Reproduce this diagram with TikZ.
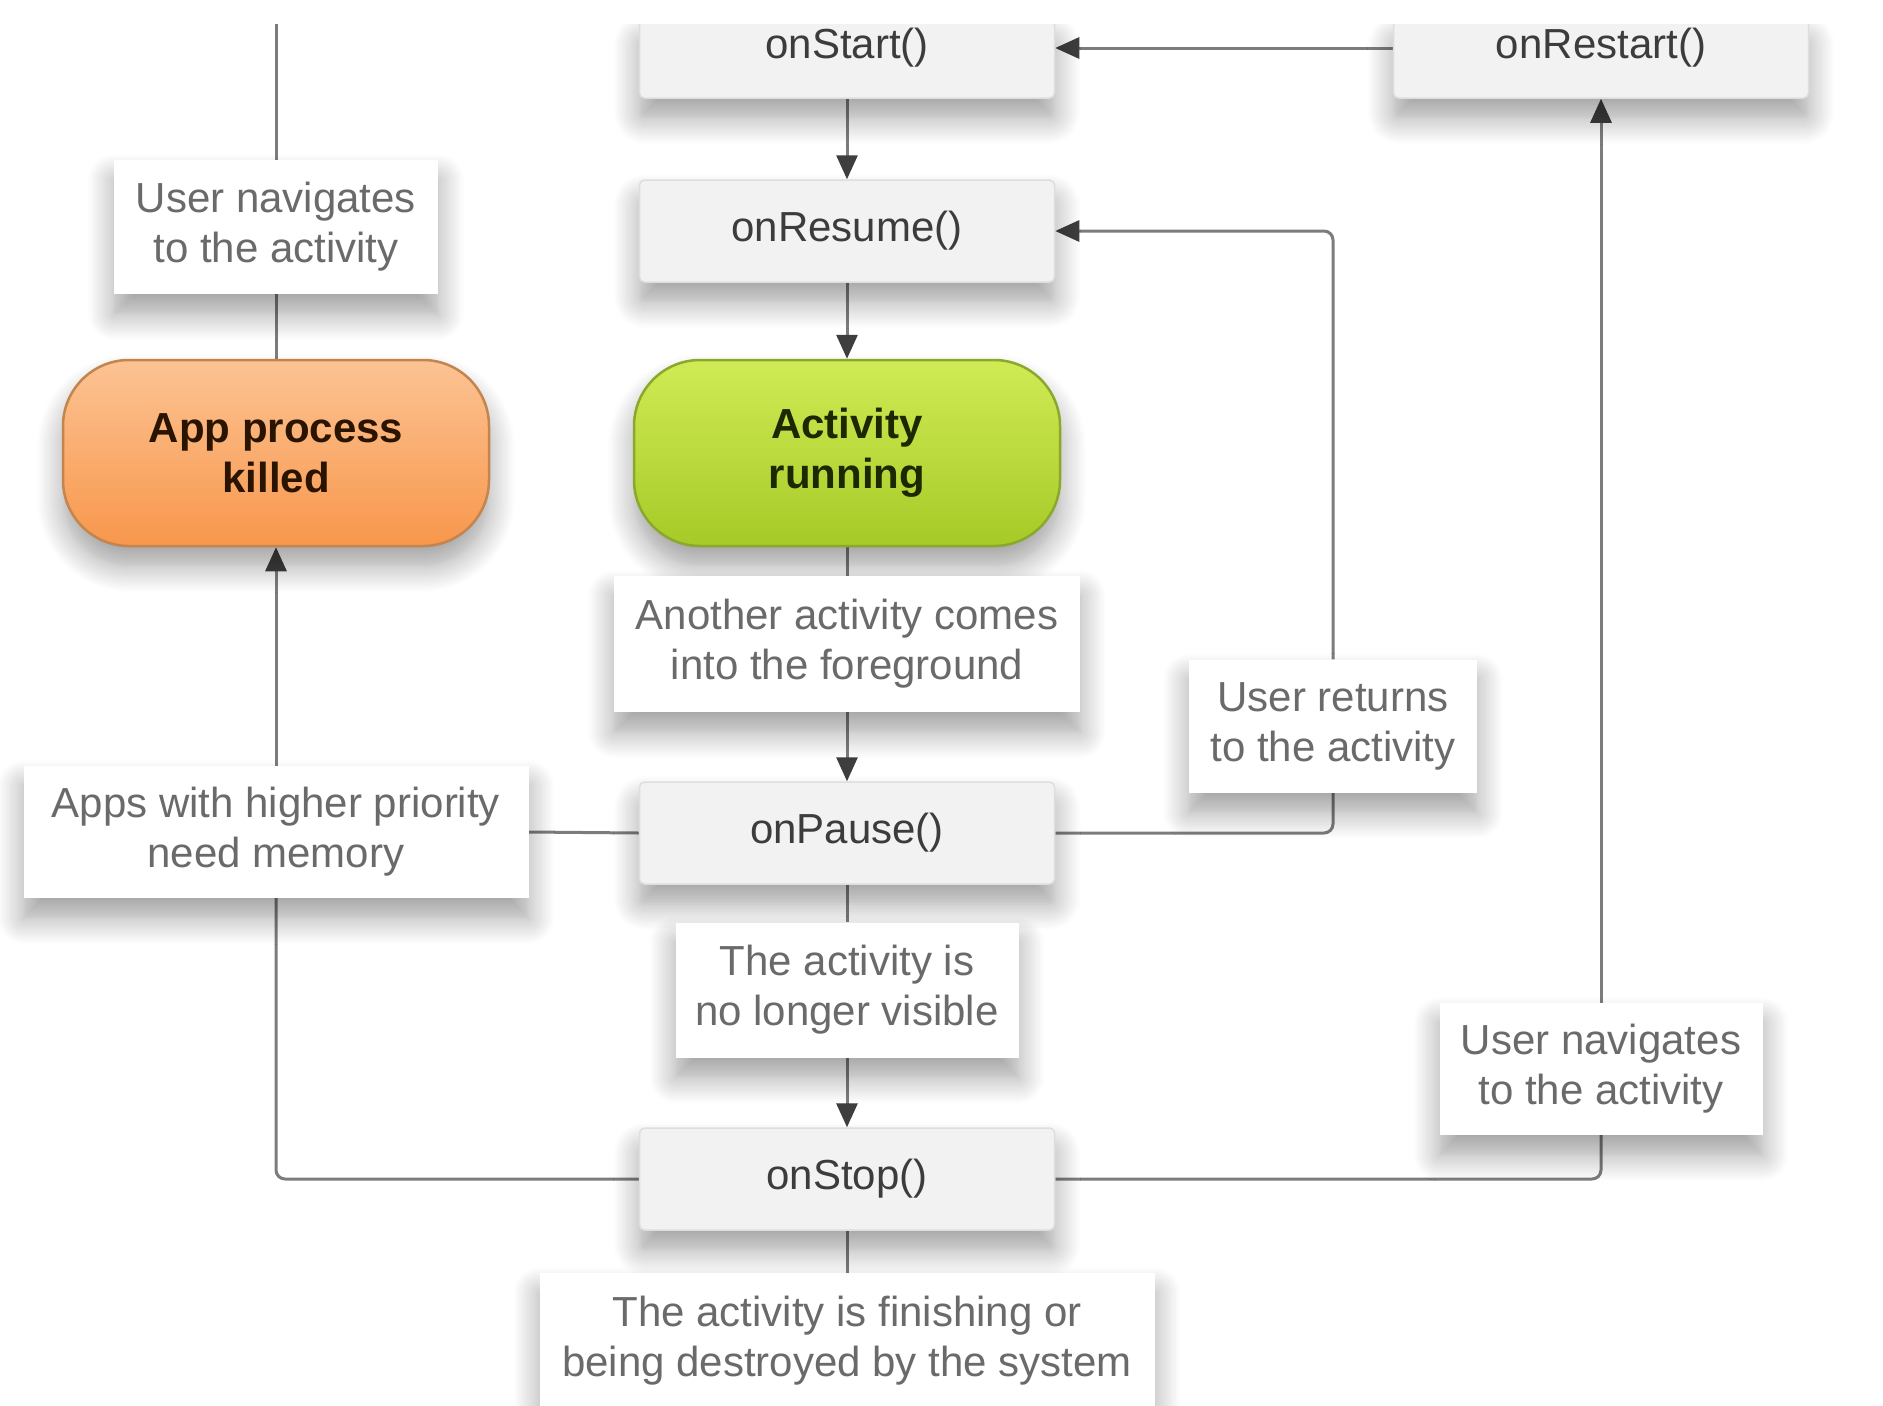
\documentclass[tikz,border=0pt]{standalone}
\usepackage{fontspec}
\setmainfont{Liberation Sans}
\usetikzlibrary{arrows.meta,shadows.blur}
\pgfdeclarelayer{bg}
\pgfsetlayers{bg,main}
\definecolor{linegray}{HTML}{7C7C7C}
\definecolor{tipgray}{HTML}{3E3E3E}
\definecolor{methodfill}{HTML}{F2F2F2}
\definecolor{methodborder}{HTML}{DEDEDE}
\definecolor{methodtext}{HTML}{3C3C3C}
\definecolor{labeltext}{HTML}{6A6A6A}
\definecolor{orangetop}{HTML}{FCC393}
\definecolor{orangebot}{HTML}{F8974C}
\definecolor{orangeline}{HTML}{C4844E}
\definecolor{orangetext}{HTML}{2A1400}
\definecolor{greentop}{HTML}{D0EB55}
\definecolor{greenbot}{HTML}{A6CA27}
\definecolor{greenline}{HTML}{8AA82C}
\definecolor{greentext}{HTML}{1D2800}
\begin{document}
\begin{tikzpicture}[x=1pt,y=-1pt,
  font=\fontsize{42}{50}\selectfont,
  conn/.style={draw=linegray, line width=3pt, rounded corners=9pt},
  arr/.style={conn, -{Triangle[length=24pt,width=21pt,color=tipgray]}},
  softshadow/.style={blur shadow={shadow xshift=0pt, shadow yshift=-20pt, shadow blur radius=26pt, shadow opacity=38, shadow blur steps=12}},
  method/.style={softshadow, draw=methodborder, line width=1.5pt, fill=methodfill, rounded corners=5pt,
    minimum width=415pt, minimum height=102pt, inner sep=0pt, text=methodtext},
  methodlabel/.style={inner sep=0pt, text=methodtext},
  label/.style={softshadow, fill=white, inner sep=0pt, align=center, text=labeltext},
  stateorange/.style={softshadow, draw=orangeline, line width=2.5pt, top color=orangetop, bottom color=orangebot,
    rounded corners=66pt, minimum width=426pt, minimum height=186pt, align=center, text=orangetext, font=\fontsize{42}{50}\selectfont\bfseries},
  stategreen/.style={softshadow, draw=greenline, line width=2.5pt, top color=greentop, bottom color=greenbot,
    rounded corners=66pt, minimum width=426pt, minimum height=186pt, align=center, text=greentext, font=\fontsize{42}{50}\selectfont\bfseries}
]
\useasboundingbox (0,0) rectangle (1883,1406);
\begin{pgfonlayer}{bg}
\fill[white] (0,0) rectangle (1883,1406);
\end{pgfonlayer}

% off-page primer for the shadow machinery (lies outside the page and is cropped away)
\node[softshadow, fill=white, minimum width=10pt, minimum height=10pt] (primer) at (4000,4000) {};

% method boxes (the top two are cut by the top edge of the picture)
\node[method, minimum height=78pt] (onStart) at (847,59) {};
\node[methodlabel] (onStartText) at (847,48) {onStart()};
\node[method, minimum height=78pt] (onRestart) at (1601,59) {};
\node[methodlabel] (onRestartText) at (1601,48) {onRestart()};
\node[method] (onResume) at (847,231) {onResume()};
\node[method] (onPause) at (847,833) {onPause()};
\node[method] (onStop) at (847,1179) {onStop()};

% states
\node[stateorange] (killed) at (276,453) {App process\\killed};
\node[stategreen] (running) at (847,453) {Activity\\running};

% labels
\node[label, minimum width=324pt, minimum height=134pt] (navL) at (276,227) {User navigates\\to the activity};
\node[label, minimum width=505pt, minimum height=132pt] (higher) at (276,832) {Apps with higher priority\\need memory};
\node[label, minimum width=466pt, minimum height=136pt] (another) at (847,644) {Another activity comes\\into the foreground};
\node[label, minimum width=288pt, minimum height=133pt] (returns) at (1333,726) {User returns\\to the activity};
\node[label, minimum width=343pt, minimum height=135pt] (novis) at (847,990) {The activity is\\no longer visible};
\node[label, minimum width=323pt, minimum height=132pt] (navR) at (1601,1069) {User navigates\\to the activity};
\node[label, minimum width=615pt, minimum height=136pt] (finish) at (847,1341) {The activity is finishing or\\being destroyed by the system};

\coordinate (topL) at (276,0);
\coordinate (restartL) at (onRestart.west |- onRestartText);
\coordinate (startR) at (onStart.east |- onStartText);

% connectors
\begin{pgfonlayer}{bg}
\draw[conn] (topL) -- (navL.north);
\draw[conn] (navL.south) -- (killed.north);
\draw[arr] (higher.north) -- (killed.south);
\draw[conn] (onStop.west) -| (higher.south);
\draw[conn] (onPause.west) -- (higher.east);
\draw[arr] (restartL) -- (startR);
\draw[arr] (onStart.south) -- (onResume.north);
\draw[arr] (onResume.south) -- (running.north);
\draw[conn] (running.south) -- (another.north);
\draw[arr] (another.south) -- (onPause.north);
\draw[conn] (onPause.east) -| (returns.south);
\draw[arr] (returns.north) |- (onResume.east);
\draw[conn] (onPause.south) -- (novis.north);
\draw[arr] (novis.south) -- (onStop.north);
\draw[conn] (onStop.east) -| (navR.south);
\draw[arr] (navR.north) -- (onRestart.south);
\draw[conn] (onStop.south) -- (finish.north);
\end{pgfonlayer}

\fill[white] (0,0) rectangle (1883,24);
\end{tikzpicture}
\end{document}
